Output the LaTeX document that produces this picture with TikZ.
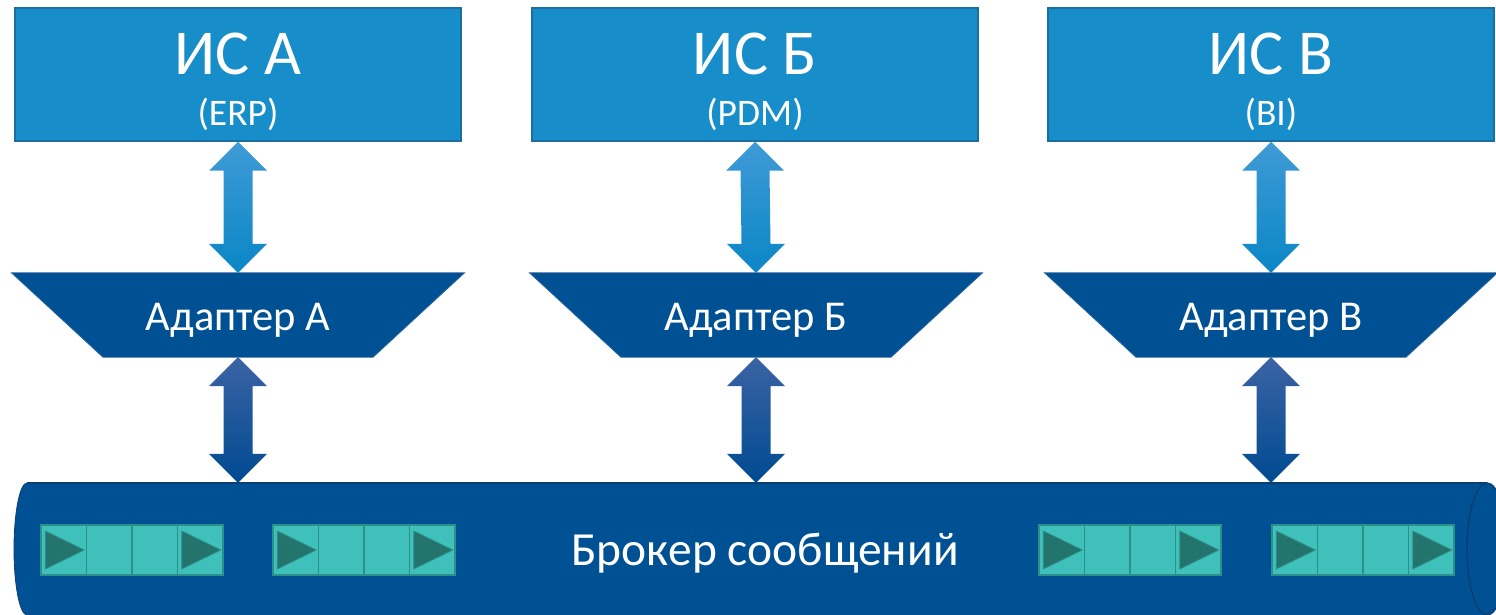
\documentclass[tikz,border=0pt]{standalone}
\usepackage{fontspec}
\setmainfont{Carlito}
\usetikzlibrary{calc}

\definecolor{sysblue}{HTML}{178DC9}
\definecolor{sysedge}{HTML}{1B6E9F}
\definecolor{navy}{HTML}{005194}
\definecolor{navyedge}{HTML}{0B3E72}
\definecolor{adedge}{HTML}{2A63A0}
\definecolor{qfill}{HTML}{3FC0BA}
\definecolor{qedge}{HTML}{2C8F88}
\definecolor{qmark}{HTML}{24746E}
\definecolor{uptop}{HTML}{3F9BD6}
\definecolor{upbot}{HTML}{0A86C6}
\definecolor{lotop}{HTML}{3B63A4}
\definecolor{lobot}{HTML}{004A91}

% double-headed block arrow between two anchor points (upper tip, lower tip)
\newcommand{\linkarrow}[4]{%
  \shade[top color=#3,bottom color=#4]
    (#1) -- ($(#1)+(29,-29)$) -- ($(#1)+(14.5,-29)$)
    -- ($(#2)+(14.5,29)$) -- ($(#2)+(29,29)$) -- (#2)
    -- ($(#2)+(-29,29)$) -- ($(#2)+(-14.5,29)$)
    -- ($(#1)+(-14.5,-29)$) -- ($(#1)+(-29,-29)$) -- cycle;}

\begin{document}
\begin{tikzpicture}[x=1pt,y=1pt,
  sysbox/.style={draw=sysedge, line width=1.5pt, fill=sysblue,
    minimum width=446pt, minimum height=133pt, inner sep=0pt},
  systitle/.style={text=white, font=\fontsize{64}{64}\selectfont,
    anchor=base, inner sep=0pt},
  syssub/.style={text=white, font=\fontsize{37.5}{37.5}\selectfont,
    anchor=base, inner sep=0pt},
  adbox/.style={minimum width=270pt, minimum height=84pt, inner sep=0pt},
  adshape/.style={fill=navy, draw=adedge, line width=0.8pt},
  adtext/.style={text=white, font=\fontsize{42.5}{42.5}\selectfont,
    anchor=base, inner sep=0pt},
  brkbox/.style={minimum width=1460pt, minimum height=132pt, inner sep=0pt},
  brktext/.style={text=white, font=\fontsize{47.5}{47.5}\selectfont,
    anchor=base, inner sep=0pt},
  qcell/.style={draw=qedge, line width=1.5pt, fill=qfill,
    minimum width=45.5pt, minimum height=50pt, inner sep=0pt},
  qtri/.style={fill=qmark, draw=qedge, line width=0.8pt},
]
\useasboundingbox (0,0) rectangle (1496,614);
\clip (0,0) rectangle (1496,614);

% information systems
\node[sysbox] (isA) at (238,539.5) {};
\node[sysbox] (isB) at (755,539.5) {};
\node[sysbox] (isC) at (1271,539.5) {};
\node[systitle] (isAt) at (238,539) {ИС А};
\node[systitle] (isBt) at (755,539) {ИС Б};
\node[systitle] (isCt) at (1271,539) {ИС В};
\node[syssub] (isAs) at (238,488) {(ERP)};
\node[syssub] (isBs) at (755,488) {(PDM)};
\node[syssub] (isCs) at (1271,488) {(BI)};

% adapters (inverted trapezoids)
\foreach \n/\x in {adA/238, adB/756, adC/1271} {
  \node[adbox] (\n) at (\x,299) {};
  \draw[adshape] ($(\n.north)+(-226.5,0)$) -- ($(\n.north)+(226.5,0)$)
    -- ($(\n.south)+(135,0)$) -- ($(\n.south)+(-135,0)$) -- cycle;
}
\node[adtext] (adAt) at (238,284) {Адаптер А};
\node[adtext] (adBt) at (756,284) {Адаптер Б};
\node[adtext] (adCt) at (1271,284) {Адаптер В};

% message broker (horizontal cylinder)
\node[brkbox] (brk) at (757,65) {};
\fill[navy] (27,131) -- (1487,131)
  arc[start angle=90,end angle=-90,x radius=20,y radius=66]
  -- (27,-1) arc[start angle=270,end angle=90,x radius=13,y radius=66] -- cycle;
\draw[navyedge, line width=0.8pt] (27,-1) arc[start angle=270,end angle=90,x radius=13,y radius=66];
\draw[navyedge, line width=1.5pt] (27,131) -- (1487,131);
\draw[navyedge, line width=1.5pt] (1487,65) ellipse[x radius=20,y radius=66];
\node[brktext] (brkt) at (765,49) {Брокер сообщений};

% queues
\foreach \gx [count=\g] in {41,273,1039,1272} {
  \foreach \k in {0,...,3} {
    \node[qcell] (q\g-\k) at (\gx+22.75+45.5*\k,64) {};
  }
  \foreach \k in {0,3} {
    \draw[qtri] ($(q\g-\k.west)+(5,19)$) -- ($(q\g-\k.west)+(5,-19)$)
      -- ($(q\g-\k.east)+(-3,0)$) -- cycle;
  }
}

% links
\coordinate (bkA) at (adA.south |- brk.north);
\coordinate (bkB) at (adB.south |- brk.north);
\coordinate (bkC) at (adC.south |- brk.north);
\linkarrow{isA.south}{adA.north}{uptop}{upbot}
\linkarrow{isB.south}{adB.north}{uptop}{upbot}
\linkarrow{isC.south}{adC.north}{uptop}{upbot}
\linkarrow{adA.south}{bkA}{lotop}{lobot}
\linkarrow{adB.south}{bkB}{lotop}{lobot}
\linkarrow{adC.south}{bkC}{lotop}{lobot}
\end{tikzpicture}
\end{document}
